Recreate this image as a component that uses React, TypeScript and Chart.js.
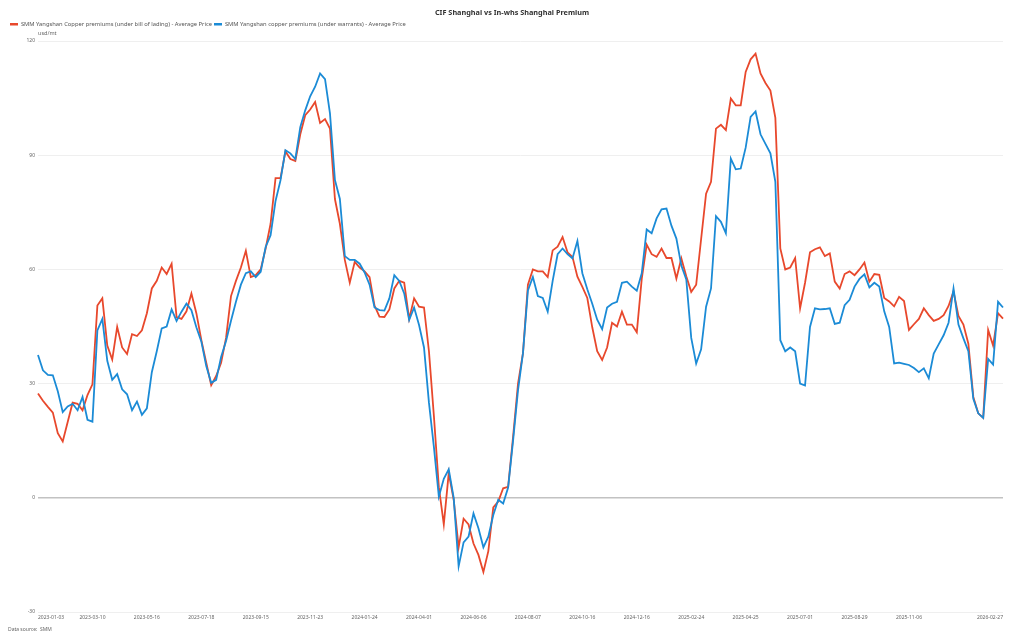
import React, { useEffect, useRef } from 'react';
import Chart from 'chart.js/auto';

const TITLE = 'CIF Shanghai vs In-whs Shanghai Premium';
const SERIES_RED = 'SMM Yangshan Copper premiums (under bill of lading) - Average Price';
const SERIES_BLUE = 'SMM Yangshan copper premiums (under warrants) - Average Price';
const UNIT = 'usd/mt';
const SOURCE = 'Data source:  SMM';

const tickDates = [
  '2023-01-03', '2023-03-10', '2023-05-16', '2023-07-18', '2023-09-15', '2023-11-23',
  '2024-01-24', '2024-04-01', '2024-06-06', '2024-08-07', '2024-10-16', '2024-12-16',
  '2025-02-24', '2025-04-25', '2025-07-01', '2025-08-29', '2025-11-06', '2026-02-27',
];
const TICK_EVERY = 11;
const yTicks = [-30, 0, 30, 60, 90, 120];

const billOfLading = [
  27.4, 25.5, 23.9, 22.4, 17, 14.8, 19.9, 25, 24.7, 23,
  27, 29.8, 50.5, 52.4, 40, 36.3, 44.9, 39.5, 37.8, 43,
  42.5, 44, 48.5, 55, 57, 60.5, 58.8, 61.5, 47.5, 47,
  49, 53.7, 48.5, 41.5, 35.5, 29.6, 32, 35.5, 42, 53,
  57, 60.5, 64.9, 58, 58.5, 60, 65.5, 72, 84, 84,
  91, 89, 88.5, 95.5, 100.5, 102, 104, 98.5, 99.5, 97,
  78.5, 72, 62.5, 56.5, 62, 60.5, 59.5, 58, 50.5, 47.6,
  47.5, 49.5, 55, 57, 56.5, 47, 52.4, 50.2, 50, 38.5,
  21.5, 2.8, -7, 6.5, -0.5, -13, -5.5, -7, -12, -15,
  -19.5, -14, -2.5, -1, 2.5, 2.9, 16, 30, 38, 56,
  60, 59.5, 59.5, 58, 65, 66, 68.5, 64.5, 63.3, 58.1,
  55.4, 52.5, 44.8, 38.5, 36.2, 39.5, 46, 45, 48.9, 45.5,
  45.5, 43.5, 57.5, 66.5, 64, 63.3, 65.5, 63, 63, 57.6,
  62.9, 58.2, 54.1, 56, 68, 79.9, 83, 97, 98, 96.6,
  104.9, 103.1, 103.1, 111.9, 115.2, 116.7, 111.5, 109, 107, 99.8,
  65.5, 60, 60.5, 63, 49.8, 56.5, 64.5, 65.3, 65.8, 63.5,
  64.2, 56.8, 55, 58.8, 59.5, 58.5, 60, 61.8, 56.8, 58.8,
  58.6, 52.5, 51.6, 50.3, 52.8, 51.7, 44.1, 45.6, 47, 49.8,
  48, 46.5, 47, 48, 50.4, 54.2, 47.8, 45.5, 40.5, 26.5,
  22.2, 21, 44.1, 40, 48.5, 47.1,
];

const warrants = [
  37.5, 33.5, 32.3, 32.2, 28, 22.5, 24, 24.7, 23, 26.5,
  20.5, 20, 44, 47, 36, 31, 32.5, 28.5, 27.2, 23,
  25.3, 21.8, 23.5, 33, 38.5, 44.5, 45, 49.5, 46.5, 48.9,
  51, 49.3, 44.8, 41.1, 34.6, 30.2, 31, 37, 41.2, 46.5,
  51.5, 56, 59, 59.5, 58, 59.4, 65.9, 69, 78, 83.4,
  91.3, 90.5, 89, 97.4, 101.8, 105.5, 108, 111.5, 110, 101,
  83.5, 78.5, 63.5, 62.5, 62.5, 61.5, 59.2, 56, 50, 49.3,
  49.2, 52.4, 58.5, 57, 53.7, 46.7, 50, 45.4, 39.5, 25,
  13.4, 0.3, 5, 7.5, 0, -18, -11.7, -10.2, -4.1, -8,
  -13, -10.2, -4.5, -0.5, -1.5, 2.7, 15, 28.3, 38, 54.5,
  58, 53, 52.5, 48.9, 57, 64, 65.5, 64, 62.9, 67.5,
  59, 54.8, 51, 46.8, 44.3, 50, 51, 51.5, 56.5, 56.8,
  55.5, 54.4, 59, 70.5, 69.5, 73.4, 75.8, 76, 71.5, 68.1,
  61, 57.4, 42, 35.3, 39, 50.2, 55, 74, 72.5, 69.5,
  89.1, 86.3, 86.5, 92, 100.1, 101.5, 95.5, 93, 90.5, 83,
  41.4, 38.5, 39.5, 38.5, 30, 29.5, 44.9, 49.8, 49.5, 49.6,
  49.8, 45.7, 46, 50.6, 52, 55.5, 57.5, 58.7, 55.3, 56.5,
  55.5, 49, 44.9, 35.3, 35.5, 35.2, 34.9, 34.1, 33, 34,
  31.4, 37.9, 40.3, 42.7, 46, 55, 45.5, 41.9, 38.5, 26,
  22.2, 21, 36.5, 35, 51.5, 50,
];

const RED = '#e8482c';
const BLUE = '#1b8bd6';
const FONT = '"Noto Sans", "Open Sans", sans-serif';

const labels = billOfLading.map((_, i) => {
  if (i === billOfLading.length - 1) return tickDates[tickDates.length - 1];
  const k = i / TICK_EVERY;
  if (Number.isInteger(k) && k < tickDates.length - 1) return tickDates[k];
  return '';
});

export default function App() {
  const ref = useRef<HTMLCanvasElement | null>(null);

  useEffect(() => {
    if (!ref.current) return;
    const defaultGen = (Chart as any).defaults.plugins.legend.labels.generateLabels;
    const chart = new Chart(ref.current, {
      type: 'line',
      data: {
        labels,
        datasets: [
          {
            label: SERIES_RED,
            data: billOfLading,
            borderColor: RED,
            backgroundColor: RED,
            borderWidth: 1.8,
            pointRadius: 0,
            tension: 0,
            fill: false,
            order: 1,
          },
          {
            label: SERIES_BLUE,
            data: warrants,
            borderColor: BLUE,
            backgroundColor: BLUE,
            borderWidth: 1.8,
            pointRadius: 0,
            tension: 0,
            fill: false,
            order: 0,
          },
        ],
      },
      options: {
        animation: false,
        responsive: true,
        maintainAspectRatio: false,
        layout: { padding: { left: 8, right: 8, top: 0, bottom: 0 } },
        plugins: {
          title: {
            display: true,
            text: TITLE,
            color: '#333',
            font: { family: FONT, size: 7.3, weight: 'bold' },
            padding: { top: 8.6, bottom: 2 },
          },
          subtitle: {
            display: true,
            text: SOURCE,
            position: 'bottom',
            align: 'start',
            color: '#666',
            font: { family: FONT, size: 5 },
            padding: { top: 0, bottom: 7.5 },
          },
          legend: {
            position: 'top',
            align: 'start',
            labels: {
              boxWidth: 8,
              boxHeight: 2.5,
              padding: 2,
              color: '#555',
              font: { family: FONT, size: 5.8 },
              generateLabels: (c: any) =>
                defaultGen(c).map((l: any) => ({ ...l, lineWidth: 0, fillStyle: l.strokeStyle })),
              sort: (a: any, b: any) => a.datasetIndex - b.datasetIndex,
            },
          },
          tooltip: { enabled: false },
        },
        scales: {
          x: {
            type: 'category',
            grid: { display: false, drawTicks: false },
            border: { display: false },
            ticks: {
              autoSkip: false,
              maxRotation: 0,
              minRotation: 0,
              align: 'inner',
              padding: 3,
              color: '#666',
              font: { family: FONT, size: 5 },
            },
            afterFit: (s: any) => {
              s.height = 14.5;
            },
          },
          xTop: {
            type: 'category',
            position: 'top',
            grid: { display: false, drawTicks: false },
            border: { display: false },
            ticks: { display: false },
            title: {
              display: true,
              text: UNIT,
              align: 'start',
              color: '#666',
              font: { family: FONT, size: 5.5 },
              padding: { top: -7.4, bottom: 0 },
            },
            afterFit: (s: any) => {
              s.height = 3.9;
            },
          },
          y: {
            min: -30,
            max: 120,
            afterBuildTicks: (s: any) => {
              s.ticks = yTicks.map((v) => ({ value: v }));
            },
            ticks: {
              padding: 3,
              color: '#666',
              font: { family: FONT, size: 5 },
            },
            grid: {
              drawTicks: false,
              color: (ctx: any) => (ctx.tick && ctx.tick.value === 0 ? '#c2c2c2' : '#efefef'),
              lineWidth: (ctx: any) => (ctx.tick && ctx.tick.value === 0 ? 1.5 : 1),
            },
            border: { display: false },
            afterFit: (s: any) => {
              s.width = 30;
            },
          },
          yRight: {
            type: 'linear',
            position: 'right',
            grid: { display: false, drawTicks: false },
            border: { display: false },
            ticks: { display: false },
            afterFit: (s: any) => {
              s.width = 13;
            },
          },
        },
      } as any,
    });
    return () => chart.destroy();
  }, []);

  return (
    <div style={{ position: 'fixed', left: 0, top: 0, width: 1024, height: 640, background: '#fff' }}>
      <canvas ref={ref} />
    </div>
  );
}
